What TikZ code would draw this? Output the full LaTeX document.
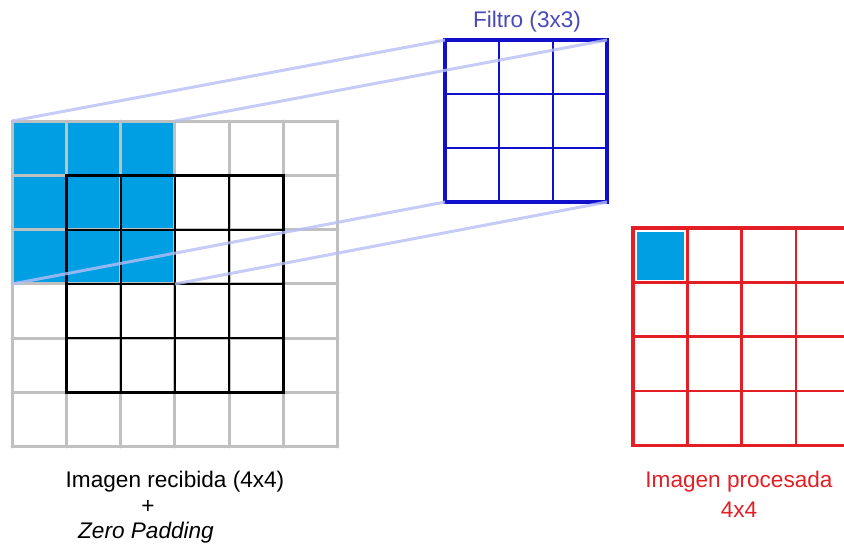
\documentclass[tikz,border=0pt]{standalone}
\usepackage{fontspec}
\setmainfont{Liberation Sans}
\definecolor{cellblue}{HTML}{009FE3}
\definecolor{padgrey}{HTML}{C0C0C0}
\definecolor{kernelblue}{HTML}{1010CC}
\definecolor{kerneltext}{HTML}{4A4AB8}
\definecolor{outred}{HTML}{E31E24}
\definecolor{linkblue}{HTML}{B8BEF6}
\begin{document}
\begin{tikzpicture}[x=1pt,y=-1pt,
  padline/.style={draw=padgrey,line width=3pt,line cap=round},
  imgline/.style={draw=black,line width=2pt},
  imgframe/.style={draw=black,line width=3pt},
  kernline/.style={draw=kernelblue,line width=2.5pt},
  kernframe/.style={draw=kernelblue,line width=3.5pt},
  outline/.style={draw=outred,line width=2.5pt},
  outframe/.style={draw=outred,line width=3.5pt},
  link/.style={draw=linkblue,line width=3pt,opacity=0.8},
  blank/.style={inner sep=0pt,outer sep=0pt,minimum width=#1pt,minimum height=#1pt,anchor=north west},
  caption/.style={font=\fontsize{22.6}{27}\selectfont,inner sep=0pt}]
\useasboundingbox (0,0) rectangle (844,546);
\def\cs{54.33}

% receptive window: 3x3 shaded cells in the padded image
\node[blank=163] (win) at (12,121) {};
\foreach \r in {0,1,2}{
  \foreach \c in {0,1,2}{
    \fill[cellblue] (12+\c*\cs+1.5,121+\r*\cs+1.5) rectangle (12+\c*\cs+\cs-1.5,121+\r*\cs+\cs-1.5);
  }
}

% padded 6x6 grid
\foreach \i in {0,...,6}{
  \draw[padline] (12+\i*\cs,121) -- (12+\i*\cs,447);
  \draw[padline] (12,121+\i*\cs) -- (338,121+\i*\cs);
}

% received 4x4 image
\node[blank=217.3] (img) at (66.33,175.33) {};
\foreach \i in {1,2,3}{
  \draw[imgline] (66.33+\i*\cs,175.33) -- (66.33+\i*\cs,392.65);
  \draw[imgline] (66.33,175.33+\i*\cs) -- (283.65,175.33+\i*\cs);
}
\draw[imgframe] (img.north west) rectangle (img.south east);

% 3x3 filter
\node[blank=162] (filter) at (445,40) {};
\foreach \i in {1,2}{
  \draw[kernline] (445+\i*54,40) -- (445+\i*54,202);
  \draw[kernline] (445,40+\i*54) -- (607,40+\i*54);
}
\draw[kernframe] (filter.north west) rectangle (filter.south east);
\node[caption,text=kerneltext] (ftitle) at (527,22) {Filtro (3x3)};

% projection of the window onto the filter
\draw[link] (win.north west) -- (filter.north west);
\draw[link] (win.north east) -- (filter.north east);
\draw[link] (win.south west) -- (filter.south west);
\draw[link] (win.south east) -- (filter.south east);

% processed 4x4 output
\node[blank=217.3] (out) at (633,228) {};
\fill[cellblue] (636.5,231.5) rectangle (684,280);
\foreach \i in {1,2,3}{
  \draw[outline] (633+\i*\cs,228) -- (633+\i*\cs,445.3);
  \draw[outline] (633,228+\i*\cs) -- (850.3,228+\i*\cs);
}
\draw[outframe] (out.north west) rectangle (out.south east);

% captions
\node[caption] (cap1) at (175,482) {Imagen recibida (4x4)};
\node[caption] (cap2) at (148,507) {+};
\node[caption,font=\fontsize{22.6}{27}\selectfont\itshape] (cap3) at (146,533) {Zero Padding};
\node[caption,text=outred] (cap4) at (739,482) {Imagen procesada};
\node[caption,text=outred] (cap5) at (739,510) {4x4};
\end{tikzpicture}
\end{document}
